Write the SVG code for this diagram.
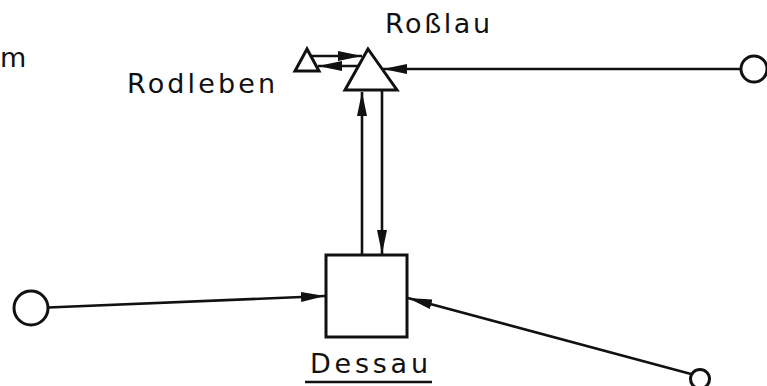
<svg xmlns="http://www.w3.org/2000/svg" width="767" height="386" viewBox="0 0 767 386">
<style>
.ln{stroke:#111;stroke-width:2.6;fill:none}
.nd{stroke:#111;stroke-width:3;fill:#fff}
.tx{font-family:"DejaVu Sans","Liberation Sans",sans-serif;font-size:27px;fill:#111}
</style>
<defs>
<marker id="ah" markerUnits="userSpaceOnUse" markerWidth="26" markerHeight="11" refX="24" refY="5" orient="auto">
<path d="M0,0 L24,5 L0,10 z" fill="#111"/>
</marker>
</defs>
<rect width="767" height="386" fill="#fff"/>
<g id="connectors">
<line class="ln" x1="311" y1="56" x2="362" y2="56" marker-end="url(#ah)"/>
<line class="ln" x1="358" y1="66" x2="318" y2="66" marker-end="url(#ah)"/>
<line class="ln" x1="741" y1="69" x2="383" y2="69" marker-end="url(#ah)"/>
<line class="ln" x1="362" y1="255" x2="362" y2="92" marker-end="url(#ah)"/>
<line class="ln" x1="382" y1="90" x2="382" y2="254" marker-end="url(#ah)"/>
<line class="ln" x1="48" y1="307.5" x2="325" y2="296" marker-end="url(#ah)"/>
<line class="ln" x1="691" y1="374" x2="408" y2="298" marker-end="url(#ah)"/>
</g>
<g id="rosslau">
<polygon class="nd" points="368,49 345,90 397,90"/>
<text class="tx" x="385" y="33" textLength="105" lengthAdjust="spacing">Roßlau</text>
</g>
<g id="rodleben">
<polygon class="nd" points="307,49 295,71 319,71"/>
<text class="tx" x="127" y="93" textLength="148" lengthAdjust="spacing">Rodleben</text>
</g>
<g id="dessau">
<rect class="nd" x="326" y="255" width="81" height="82"/>
<text class="tx" x="310" y="373" textLength="118" lengthAdjust="spacing">Dessau</text>
<line class="ln" x1="305" y1="382" x2="432" y2="382"/>
</g>
<g id="source-right">
<circle class="nd" cx="754" cy="69" r="13"/>
</g>
<g id="source-left">
<circle class="nd" cx="31" cy="308" r="17"/>
</g>
<g id="source-bottom">
<circle class="nd" cx="700" cy="379" r="9.5"/>
</g>
<text class="tx" x="0" y="67">m</text>
</svg>
